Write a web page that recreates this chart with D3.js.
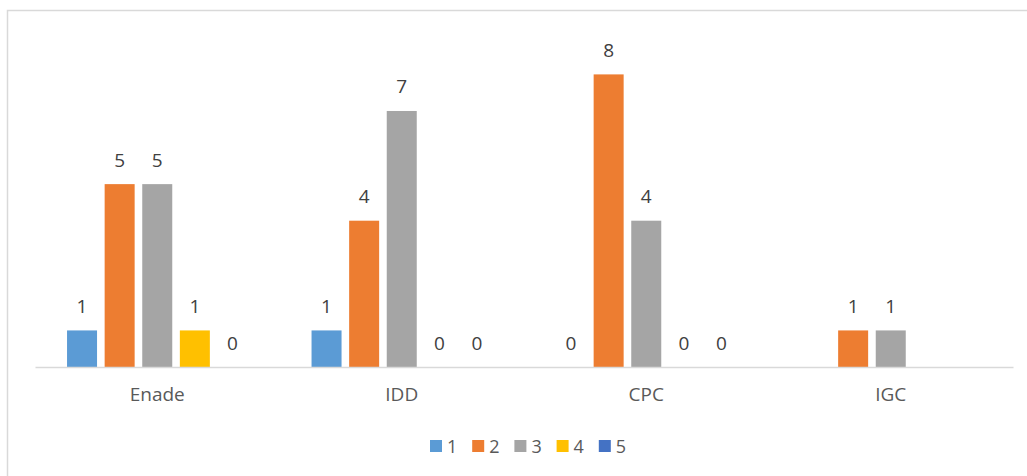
<!DOCTYPE html>
<html>
<head>
<meta charset="utf-8">
<script src="https://cdn.jsdelivr.net/npm/d3@7"></script>
<style>
  body { margin: 0; background: #fff; }
  svg { display: block; font-family: "Open Sans", "Liberation Sans", sans-serif; }
</style>
</head>
<body>
<svg id="chart" width="1027" height="476"></svg>
<script>
var categories = ["Enade", "IDD", "CPC", "IGC"];
var seriesNames = ["1", "2", "3", "4", "5"];
var seriesColors = ["#5B9BD5", "#ED7D31", "#A5A5A5", "#FFC000", "#4472C4"];
// one array per series, null = no value
var s1 = [1, 1, 0, null];
var s2 = [5, 4, 8, 1];
var s3 = [5, 7, 4, 1];
var s4 = [1, 0, 0, null];
var s5 = [0, 0, 0, null];
var series = [s1, s2, s3, s4, s5];

var svg = d3.select('#chart');
var fontSize = 19;

// outer frame
svg.append('rect')
    .attr('x', 7.5).attr('y', 10.5)
    .attr('width', 1030).attr('height', 480)
    .attr('fill', 'none')
    .attr('stroke', '#d9d9d9')
    .attr('stroke-width', 1.5);

var plotLeft = 35, plotRight = 1013, baseY = 367;

var x0 = d3.scaleBand().domain(categories).range([plotLeft, plotRight]);
var bw = x0.bandwidth();
var x1 = d3.scaleBand().domain(seriesNames).range([bw * 0.1155, bw * 0.8845]);
var y = d3.scaleLinear().domain([0, 8]).range([baseY, baseY - 292.6]);
var barW = 30;

var rows = [];
categories.forEach(function(c, i) {
    series.forEach(function(s, j) {
        rows.push({cat: c, name: seriesNames[j], color: seriesColors[j], value: s[i]});
    });
});

var g = svg.append('g');
var groups = g.selectAll('g.cat').data(categories).enter().append('g')
    .attr('class', 'cat')
    .attr('transform', function(d) { return 'translate(' + x0(d) + ',0)'; });

groups.each(function(c) {
    var data = rows.filter(function(r) { return r.cat == c && r.value !== null; });
    var sel = d3.select(this);
    sel.selectAll('rect').data(data).enter().append('rect')
        .attr('x', function(d) { return x1(d.name) + (x1.bandwidth() - barW) / 2; })
        .attr('y', function(d) { return y(d.value); })
        .attr('width', barW)
        .attr('height', function(d) { return baseY - y(d.value); })
        .attr('fill', function(d) { return d.color; });
    sel.selectAll('text').data(data).enter().append('text')
        .attr('x', function(d) { return x1(d.name) + x1.bandwidth() / 2; })
        .attr('y', function(d) { return y(d.value) - 17.5; })
        .attr('text-anchor', 'middle')
        .style('font-size', fontSize + 'px')
        .attr('fill', '#404040')
        .text(function(d) { return d.value; });
});

// category axis
var xAxis = svg.append('g')
    .attr('transform', 'translate(0,' + baseY + ')')
    .call(d3.axisBottom(x0).tickSize(0).tickPadding(21));
xAxis.attr('font-size', null).attr('font-family', null);
xAxis.select('.domain').attr('stroke', '#d9d9d9').attr('stroke-width', 1.5);
xAxis.selectAll('text')
    .style('font-size', fontSize + 'px')
    .attr('fill', '#595959');

// legend
var legend = svg.append('g').selectAll('g').data(seriesNames).enter().append('g')
    .attr('transform', function(d, i) { return 'translate(' + (430 + i * 42.2) + ',440)'; });
legend.append('rect')
    .attr('width', 12).attr('height', 12)
    .attr('fill', function(d, i) { return seriesColors[i]; });
legend.append('text')
    .attr('x', 17).attr('y', 12.5)
    .style('font-size', '18px')
    .attr('fill', '#595959')
    .text(function(d) { return d; });
</script>
</body>
</html>
